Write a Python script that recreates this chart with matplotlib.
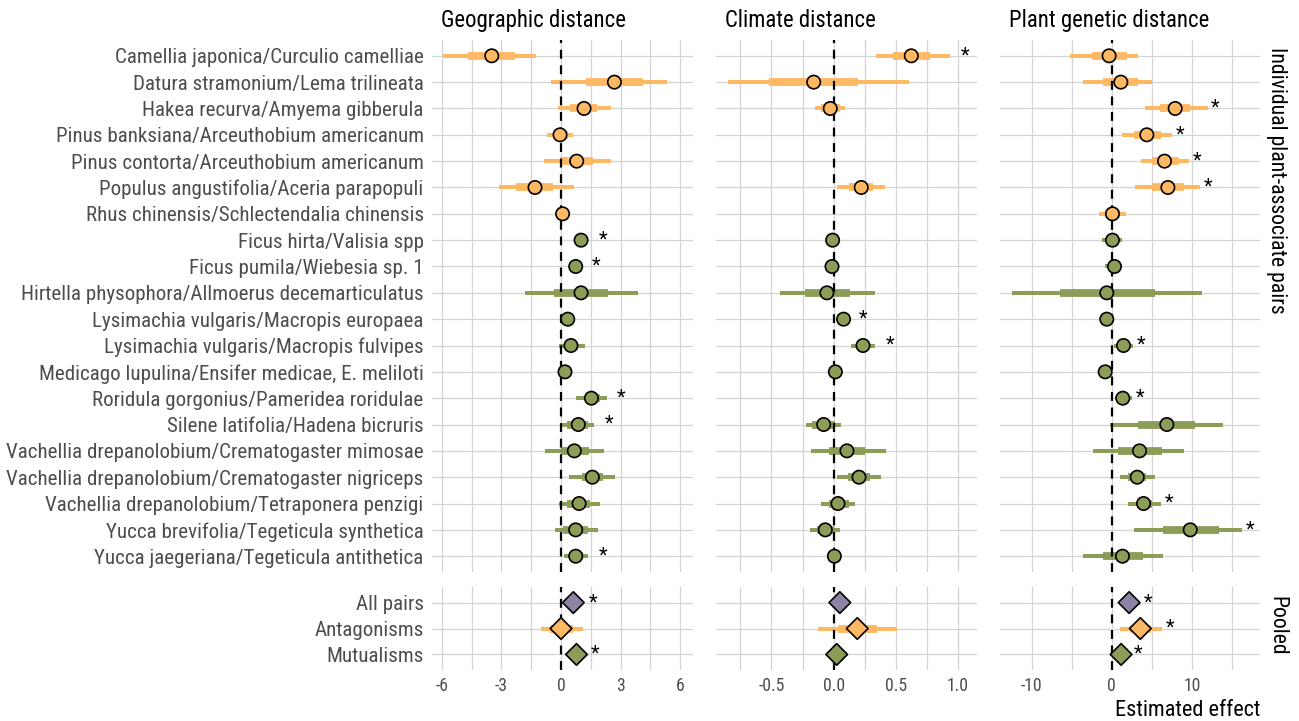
import numpy as np
import matplotlib
matplotlib.use("Agg")
import matplotlib.pyplot as plt

plt.rcParams['font.family'] = ['Liberation Sans Narrow', 'Roboto Condensed', 'Roboto', 'DejaVu Sans']

##--------------------##
## Data
##--------------------##
nan = np.nan

pairs = [
    "Camellia japonica/Curculio camelliae",
    "Datura stramonium/Lema trilineata",
    "Hakea recurva/Amyema gibberula",
    "Pinus banksiana/Arceuthobium americanum",
    "Pinus contorta/Arceuthobium americanum",
    "Populus angustifolia/Aceria parapopuli",
    "Rhus chinensis/Schlectendalia chinensis",
    "Ficus hirta/Valisia spp",
    "Ficus pumila/Wiebesia sp. 1",
    "Hirtella physophora/Allmoerus decemarticulatus",
    "Lysimachia vulgaris/Macropis europaea",
    "Lysimachia vulgaris/Macropis fulvipes",
    "Medicago lupulina/Ensifer medicae, E. meliloti",
    "Roridula gorgonius/Pameridea roridulae",
    "Silene latifolia/Hadena bicruris",
    "Vachellia drepanolobium/Crematogaster mimosae",
    "Vachellia drepanolobium/Crematogaster nigriceps",
    "Vachellia drepanolobium/Tetraponera penzigi",
    "Yucca brevifolia/Tegeticula synthetica",
    "Yucca jaegeriana/Tegeticula antithetica",
]
pair_type = ["Antagonism"] * 7 + ["Mutualism"] * 13

pooled = ["All pairs", "Antagonisms", "Mutualisms"]
pooled_type = ["All", "Antagonism", "Mutualism"]

distances = ["Geographic distance", "Climate distance", "Plant genetic distance"]

# Geographic distance
geo_est = [-3.49, 2.69, 1.16, -0.05, 0.79, -1.31, 0.08, 1.01, 0.74, 1.01, 0.34, 0.50, 0.20, 1.53, 0.87, 0.67, 1.58, 0.91, 0.74, 0.74]
geo_lo95 = [-5.93, -0.52, -0.17, -0.72, -0.86, -3.12, -0.15, 0.65, 0.45, -1.81, 0.05, -0.08, -0.17, 0.74, 0.03, -0.81, 0.40, -0.08, -0.30, 0.17]
geo_hi95 = [-1.26, 5.32, 2.52, 0.62, 2.52, 0.65, 0.30, 1.35, 1.00, 3.86, 0.60, 1.21, 0.45, 2.30, 1.66, 2.17, 2.72, 1.96, 1.85, 1.38]
geo_lo50 = [-4.70, 1.26, 0.45, -0.35, -0.05, -2.27, -0.05, 0.85, 0.60, -0.35, 0.20, 0.20, 0.05, 1.20, 0.29, 0.00, 1.04, 0.29, 0.08, 0.42]
geo_hi50 = [-2.32, 4.11, 1.80, 0.35, 1.63, -0.39, 0.20, 1.20, 0.90, 2.35, 0.50, 0.85, 0.35, 1.96, 1.38, 1.43, 2.13, 1.46, 1.38, 1.12]
geo_sig = [0, 0, 0, 0, 0, 0, 0, 1, 1, 0, 0, 0, 0, 1, 1, 0, 0, 0, 0, 1]

# Climate distance
clim_est = [0.624, -0.16, -0.027, nan, nan, 0.222, nan, -0.008, -0.013, -0.054, 0.080, 0.236, 0.014, nan, -0.08, 0.107, 0.204, 0.035, -0.067, 0.006]
clim_lo95 = [0.34, -0.848, -0.147, nan, nan, 0.027, nan, -0.04, -0.045, -0.434, 0.04, 0.142, -0.02, nan, -0.219, -0.179, 0.027, -0.099, -0.187, -0.03]
clim_hi95 = [0.937, 0.608, 0.089, nan, nan, 0.415, nan, 0.025, 0.02, 0.33, 0.12, 0.33, 0.045, nan, 0.062, 0.42, 0.383, 0.174, 0.048, 0.04]
clim_lo50 = [0.474, -0.516, -0.10, nan, nan, 0.126, nan, -0.02, -0.03, -0.227, 0.06, 0.19, 0.0, nan, -0.174, -0.04, 0.115, -0.04, -0.133, -0.01]
clim_hi50 = [0.777, 0.196, 0.05, nan, nan, 0.316, nan, 0.01, 0.005, 0.134, 0.10, 0.28, 0.03, nan, 0.014, 0.255, 0.295, 0.12, 0.0, 0.02]
clim_sig = [1, 0, 0, 0, 0, 0, 0, 0, 0, 0, 1, 1, 0, 0, 0, 0, 0, 0, 0, 0]

# Plant genetic distance
gen_est = [-0.34, 1.125, 7.91, 4.37, 6.58, 7.0, 0.08, 0.08, 0.33, -0.63, -0.63, 1.46, -0.83, 1.37, 6.87, 3.46, 3.17, 3.96, 9.79, 1.33]
gen_lo95 = [-5.21, -3.55, 4.16, 1.25, 3.66, 2.91, -1.59, -1.25, -0.8, -12.5, -1.2, 0.29, -1.5, 0.41, -0.21, -2.29, 0.96, 1.96, 2.83, -3.62]
gen_hi95 = [3.33, 5.0, 11.95, 7.5, 9.66, 10.96, 1.79, 1.25, 1.3, 11.25, -0.1, 2.62, -0.2, 2.5, 13.87, 9.04, 5.42, 6.17, 16.25, 6.37]
gen_lo50 = [-2.5, -1.05, 6.04, 2.79, 5.0, 5.0, -0.8, -0.5, -0.2, -6.46, -0.9, 0.9, -1.1, 0.9, 3.33, 0.75, 2.08, 3.12, 6.37, -1.12]
gen_hi50 = [1.875, 3.25, 9.79, 6.12, 8.33, 8.96, 1.0, 0.6, 0.8, 5.33, -0.35, 2.0, -0.5, 1.9, 10.41, 6.25, 4.29, 5.0, 13.33, 3.87]
gen_sig = [0, 0, 1, 1, 1, 1, 0, 0, 0, 0, 0, 1, 0, 1, 0, 0, 0, 1, 1, 0]

# Pooled estimates (All pairs, Antagonisms, Mutualisms)
pgeo_est = [0.62, 0.0, 0.78]
pgeo_lo95 = [0.40, -1.02, 0.55]
pgeo_hi95 = [0.86, 1.09, 0.96]
pgeo_lo50 = [0.50, -0.56, 0.65]
pgeo_hi50 = [0.75, 0.59, 0.88]
pgeo_sig = [1, 0, 1]

pclim_est = [0.05, 0.19, 0.025]
pclim_lo95 = [0.02, -0.124, -0.01]
pclim_hi95 = [0.08, 0.51, 0.06]
pclim_lo50 = [0.03, 0.035, 0.01]
pclim_hi50 = [0.07, 0.35, 0.045]
pclim_sig = [0, 0, 0]

pgen_est = [2.16, 3.56, 1.16]
pgen_lo95 = [0.9, 1.0, 0.1]
pgen_hi95 = [3.5, 6.25, 2.3]
pgen_lo50 = [1.5, 2.3, 0.6]
pgen_hi50 = [2.9, 4.86, 1.8]
pgen_sig = [1, 1, 1]

ind_data = [
    (geo_est, geo_lo95, geo_hi95, geo_lo50, geo_hi50, geo_sig),
    (clim_est, clim_lo95, clim_hi95, clim_lo50, clim_hi50, clim_sig),
    (gen_est, gen_lo95, gen_hi95, gen_lo50, gen_hi50, gen_sig),
]
pool_data = [
    (pgeo_est, pgeo_lo95, pgeo_hi95, pgeo_lo50, pgeo_hi50, pgeo_sig),
    (pclim_est, pclim_lo95, pclim_hi95, pclim_lo50, pclim_hi50, pclim_sig),
    (pgen_est, pgen_lo95, pgen_hi95, pgen_lo50, pgen_hi50, pgen_sig),
]

##--------------------##
## Style / layout
##--------------------##
colors = {"Antagonism": "#FDB863", "Mutualism": "#8C9D57", "All": "#8E83A3"}
xlims = [(-6.5, 6.65), (-0.945, 1.152), (-13.96, 18.5)]
major_ticks = [[-6, -3, 0, 3, 6], [-0.5, 0.0, 0.5, 1.0], [-10, 0, 10]]
minor_ticks = [[-4.5, -1.5, 1.5, 4.5], [-0.75, -0.25, 0.25, 0.75], [-5, 5, 15]]
tick_labels = [["-6", "-3", "0", "3", "6"], ["-0.5", "0.0", "0.5", "1.0"], ["-10", "0", "10"]]
star_off = [0.75, 0.12, 1.0]

W, H = 1299, 721
col_x = [(432, 693), (716, 977), (1000, 1260)]
row_y = [(40, 572), (587, 670)]
grid_col = "#d4d4d4"
label_col = "#4d4d4d"


def rect(x0, x1, y0, y1):
    return [x0 / W, 1 - y1 / H, (x1 - x0) / W, (y1 - y0) / H]


def draw_panel(ax, data, types, marker, ms, c):
    est, lo95, hi95, lo50, hi50, sig = [np.array(d, dtype=float) for d in data]
    n = len(est)
    y = np.arange(n)
    ax.set_xlim(*xlims[c])
    ax.set_ylim(n - 1 + 0.6, -0.6)
    ax.set_xticks(major_ticks[c])
    ax.set_xticks(minor_ticks[c], minor=True)
    ax.set_yticks(y)
    for v in major_ticks[c] + minor_ticks[c]:
        ax.axvline(v, color=grid_col, lw=0.9, zorder=0)
    for yy in y:
        ax.axhline(yy, color=grid_col, lw=0.9, zorder=0)
    cols = [colors[t] for t in types]
    ax.hlines(y, lo95, hi95, colors=cols, lw=2.9, zorder=2, capstyle='butt')
    ax.hlines(y, lo50, hi50, colors=cols, lw=5.6, zorder=2, capstyle='butt')
    ax.axvline(0, color="black", lw=1.6, ls=(0, (4, 3)), zorder=3)
    ax.scatter(est, y, s=ms ** 2, c=cols, marker=marker, edgecolors="black",
               linewidths=1.2, zorder=4)
    for i in range(n):
        if sig[i] and not np.isnan(est[i]):
            ax.text(hi95[i] + star_off[c], y[i], "*", fontsize=14.5,
                    ha="center", va="center", color="black", zorder=5)
    for s in ax.spines.values():
        s.set_visible(False)
    ax.tick_params(axis="both", which="both", length=0, colors=label_col)


fig = plt.figure(figsize=(12.99, 7.21), dpi=100)

for c in range(3):
    ax_top = fig.add_axes(rect(col_x[c][0], col_x[c][1], *row_y[0]))
    draw_panel(ax_top, ind_data[c], pair_type, "o", 9.6, c)
    ax_top.set_xticklabels([])
    ax_bot = fig.add_axes(rect(col_x[c][0], col_x[c][1], *row_y[1]))
    draw_panel(ax_bot, pool_data[c], pooled_type, "D", 11.0, c)
    ax_bot.set_xticklabels(tick_labels[c], fontsize=12.7, color=label_col)
    ax_bot.tick_params(axis="x", pad=5)
    if c == 0:
        ax_top.set_yticklabels(pairs, fontsize=15.1, color=label_col)
        ax_bot.set_yticklabels(pooled, fontsize=15.1, color=label_col)
        ax_top.tick_params(axis="y", pad=6)
        ax_bot.tick_params(axis="y", pad=6)
    else:
        ax_top.set_yticklabels([])
        ax_bot.set_yticklabels([])
    # column strip titles
    fig.text((col_x[c][0] + 9) / W, 1 - 27 / H, distances[c], fontsize=16.4,
             ha="left", va="baseline", color="black")

# row strip labels, aligned to top of each panel row
fig.text(1277 / W, 1 - (row_y[0][0] + 7) / H, "Individual plant-associate pairs",
         rotation=-90, fontsize=15.7, ha="center", va="top", color="black")
fig.text(1277 / W, 1 - (row_y[1][0] + 9) / H, "Pooled",
         rotation=-90, fontsize=15.7, ha="center", va="top", color="black")

fig.text(1260 / W, 1 - 710 / H, "Estimated effect", fontsize=16,
         ha="right", va="center", color="black")

plt.savefig("out.png", dpi=100)
